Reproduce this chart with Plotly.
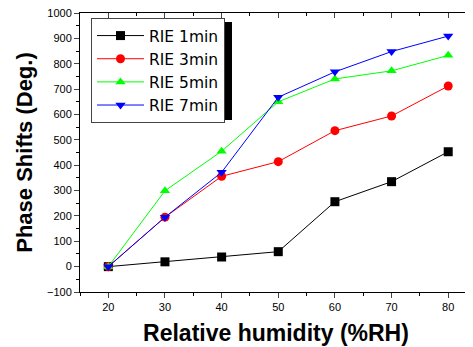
import plotly.graph_objects as go

humidity = [20, 30, 40, 50, 60, 70, 80]
rie_1min = [0, 19, 38, 59, 256, 335, 453]
rie_3min = [0, 195, 356, 414, 536, 594, 712]
rie_5min = [0, 299, 455, 650, 740, 772, 833]
rie_7min = [0, 195, 372, 668, 768, 848, 909]

series = [
    ("RIE 1min", rie_1min, "black", "square"),
    ("RIE 3min", rie_3min, "red", "circle"),
    ("RIE 5min", rie_5min, "#00ff00", "triangle-up"),
    ("RIE 7min", rie_7min, "blue", "triangle-down"),
]

# page body has an 8px default margin; compensate in figure geometry
OFF = 8
W, H = 473 - OFF, 347 - OFF
L, R, T, B = 80 - OFF, 1, 13 - OFF, 55
PW, PH = W - L - R, H - T - B
font = "Liberation Sans, Arial, sans-serif"


def px_x(x):  # page pixel -> plot-area paper coord
    return (x - OFF - L) / PW


def px_y(y):
    return 1 - (y - OFF - T) / PH


fig = go.Figure()
# legend shadow (behind legend)
fig.add_shape(type="rect", xref="paper", yref="paper",
              x0=px_x(95), x1=px_x(232), y0=px_y(120), y1=px_y(22),
              fillcolor="black", line=dict(width=0), layer="above")

for name, vals, col, sym in series:
    fig.add_trace(go.Scatter(
        x=humidity, y=vals, name=name, mode="lines+markers",
        line=dict(color=col, width=1),
        marker=dict(symbol=sym, size=9, color=col),
    ))

axis_common = dict(showline=True, linecolor="black", linewidth=1, showgrid=False,
                   zeroline=False, automargin=False)

fig.update_layout(
    width=W, height=H, margin=dict(l=L, r=R, t=T, b=B),
    plot_bgcolor="white", paper_bgcolor="white",
    font=dict(family=font, color="black"),
    xaxis=dict(range=[15, 84.2], tickvals=humidity, ticks="outside", ticklen=5,
               tickfont=dict(size=11),
               minor=dict(dtick=5, ticks="outside", ticklen=3, tickcolor="black"),
               title=dict(text="<b>Relative humidity (%RH)</b>", font=dict(size=23), standoff=12),
               **axis_common),
    yaxis=dict(range=[-100, 1000], dtick=100, ticks="outside", ticklen=5,
               tickfont=dict(size=11), ticklabeloverflow="allow",
               minor=dict(dtick=50, ticks="outside", ticklen=3, tickcolor="black"),
               title=dict(text="<b>Phase Shifts (Deg.)</b>", font=dict(size=22), standoff=8),
               **axis_common),
    xaxis2=dict(overlaying="x", side="top", matches="x", range=[15, 84.2], tickvals=humidity,
                ticks="inside", ticklen=5, showticklabels=False,
                minor=dict(dtick=5, ticks="inside", ticklen=3, tickcolor="black"),
                **axis_common),
    yaxis2=dict(overlaying="y", side="right", range=[-100, 1000], dtick=100,
                ticks="inside", ticklen=5, showticklabels=False,
                minor=dict(dtick=50, ticks="inside", ticklen=3, tickcolor="black"),
                **axis_common),
    showlegend=True,
    legend=dict(x=px_x(91), y=px_y(18),
                xanchor="left", yanchor="top",
                bgcolor="white", bordercolor="#444", borderwidth=1,
                font=dict(size=15.5, family="DejaVu Sans, sans-serif"),
                itemwidth=47, tracegroupgap=0),
)
fig.add_trace(go.Scatter(x=[None], y=[None], xaxis="x2", yaxis="y2", showlegend=False, hoverinfo="skip"))

fig.write_html("out.html")
